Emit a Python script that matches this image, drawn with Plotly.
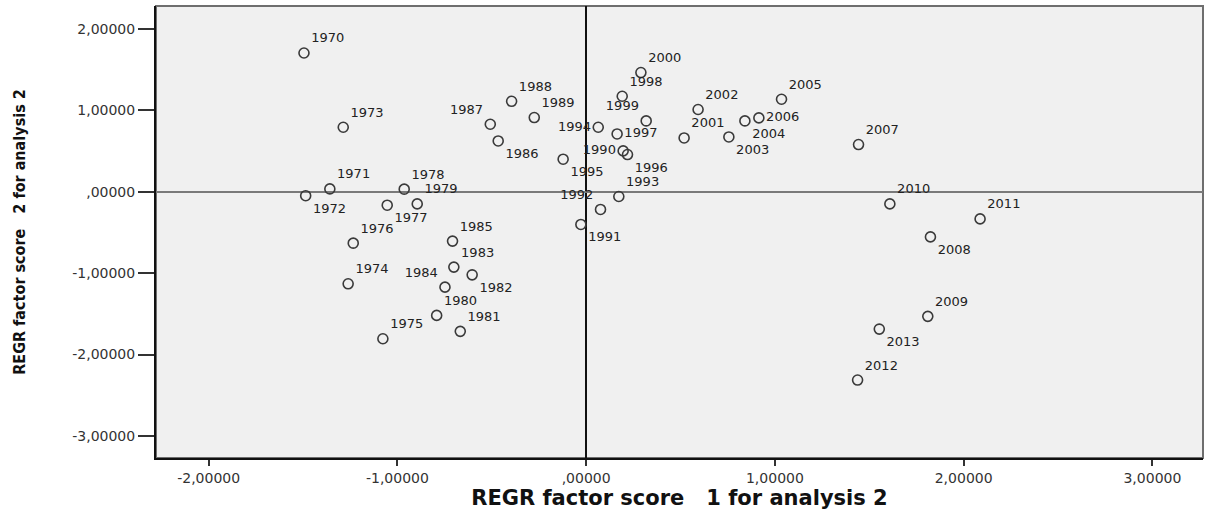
import plotly.graph_objects as go

# REGR factor scores (analysis 2) per year
years = [1970, 1971, 1972, 1973, 1974, 1975, 1976, 1977, 1978, 1979,
         1980, 1981, 1982, 1983, 1984, 1985, 1986, 1987, 1988, 1989,
         1990, 1991, 1992, 1993, 1994, 1995, 1996, 1997, 1998, 1999,
         2000, 2001, 2002, 2003, 2004, 2005, 2006, 2007, 2008, 2009,
         2010, 2011, 2012, 2013]
score1 = [-1.495, -1.358, -1.486, -1.287, -1.261, -1.077, -1.234, -1.054, -0.964, -0.895,
          -0.792, -0.667, -0.604, -0.701, -0.748, -0.708, -0.466, -0.508, -0.395, -0.275,
          0.196, -0.028, 0.076, 0.173, 0.064, -0.122, 0.219, 0.164, 0.191, 0.318,
          0.290, 0.519, 0.593, 0.756, 0.841, 1.035, 0.915, 1.443, 1.824, 1.810,
          1.609, 2.087, 1.438, 1.553]
score2 = [1.703, 0.034, -0.049, 0.791, -1.131, -1.806, -0.632, -0.166, 0.031, -0.150,
          -1.519, -1.715, -1.021, -0.926, -1.172, -0.607, 0.623, 0.828, 1.110, 0.910,
          0.501, -0.402, -0.218, -0.059, 0.791, 0.399, 0.456, 0.709, 1.172, 0.869,
          1.463, 0.660, 1.009, 0.672, 0.869, 1.135, 0.906, 0.579, -0.555, -1.531,
          -0.150, -0.334, -2.313, -1.687]

x_ticks = [-2, -1, 0, 1, 2, 3]
x_ticklabels = ["-2,00000", "-1,00000", ",00000", "1,00000", "2,00000", "3,00000"]
y_ticks = [-3, -2, -1, 0, 1, 2]
y_ticklabels = ["-3,00000", "-2,00000", "-1,00000", ",00000", "1,00000", "2,00000"]

x_title = "REGR factor score\u00a0\u00a0 1 for analysis 2"
y_title = "REGR factor score\u00a0\u00a0 2 for analysis 2"

# where each year label sits next to its marker (default: top right)
label_side = {
    1972: "bottom right", 1977: "bottom right", 1982: "bottom right",
    1986: "bottom right", 1991: "bottom right", 1995: "bottom right",
    1996: "bottom right", 2003: "bottom right", 2004: "bottom right",
    2008: "bottom right", 2013: "bottom right",
    1984: "top left", 1987: "top left", 1992: "top left", 1999: "top left",
    1990: "middle left", 1994: "middle left",
    1997: "middle right", 2006: "middle right",
}
text_pos = [label_side.get(y, "top right") for y in years]

fig = go.Figure()
fig.add_trace(
    go.Scatter(
        x=score1,
        y=score2,
        mode="markers+text",
        text=[str(y) for y in years],
        textposition=text_pos,
        textfont=dict(family="DejaVu Sans", size=13, color="#222222"),
        marker=dict(symbol="circle-open", size=10, color="#3a3a3a", line=dict(width=1.6)),
        showlegend=False,
        cliponaxis=False,
    )
)

# grey frame behind the black left/bottom axis lines
fig.add_shape(
    type="rect", xref="paper", yref="paper", x0=0, x1=1, y0=0, y1=1,
    line=dict(color="#6e6e6e", width=2), layer="below",
)

fig.update_layout(
    width=1206,
    height=511,
    margin=dict(l=156, r=3, t=6, b=53),
    paper_bgcolor="white",
    plot_bgcolor="#f0f0f0",
    font=dict(family="DejaVu Sans", size=14, color="#333333"),
)
fig.update_xaxes(
    range=[-2.279, 3.268],
    tickvals=x_ticks,
    ticktext=x_ticklabels,
    ticks="outside",
    ticklen=6,
    tickwidth=2,
    tickcolor="#333333",
    showgrid=False,
    showline=True,
    linecolor="#111111",
    linewidth=2,
    zeroline=True,
    zerolinecolor="#111111",
    zerolinewidth=2,
    automargin=False,
    title=dict(text=x_title, font=dict(family="DejaVu Sans", size=21, color="#111111", weight="bold"), standoff=0),
)
fig.update_yaxes(
    range=[-3.27, 2.28],
    tickvals=y_ticks,
    ticktext=y_ticklabels,
    ticks="outside",
    ticklen=16,
    tickwidth=2,
    tickcolor="#333333",
    showgrid=False,
    showline=True,
    linecolor="#111111",
    linewidth=2,
    zeroline=True,
    zerolinecolor="#7a7a7a",
    zerolinewidth=2,
    automargin=False,
    title=dict(
        text=y_title,
        font=dict(family="DejaVu Sans Condensed, DejaVu Sans", size=16, color="#111111", weight="bold"),
        standoff=43,
    ),
)

# the page body has a default 8px margin; drop it so the figure sits at 0,0
fig.write_html(
    "out.html",
    config={"displayModeBar": False},
    post_script="document.body.style.margin = '0';",
)
